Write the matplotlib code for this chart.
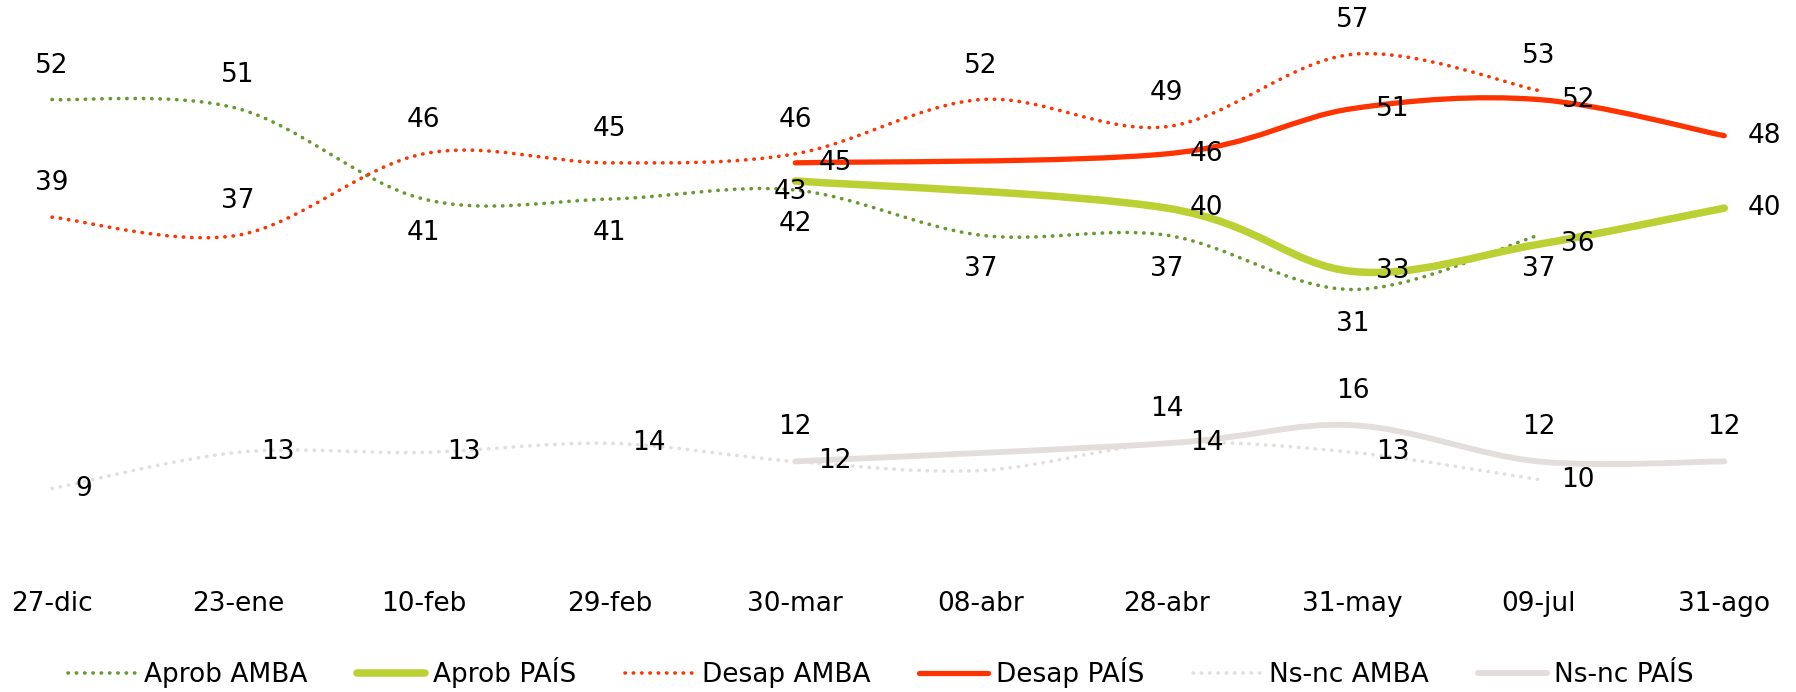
import numpy as np
import matplotlib
matplotlib.use("Agg")
import matplotlib.pyplot as plt
from matplotlib.path import Path
from matplotlib.patches import PathPatch
from matplotlib.lines import Line2D

plt.rcParams["font.family"] = ["DejaVu Sans"]

# data
dates = ["27-dic", "23-ene", "10-feb", "29-feb", "30-mar",
         "08-abr", "28-abr", "31-may", "09-jul", "31-ago"]
nan = np.nan
aprob_amba = [52, 51, 41, 41, 42, 37, 37, 31, 37, nan]
aprob_pais = [nan, nan, nan, nan, 43, nan, 40, 33, 36, 40]
desap_amba = [39, 37, 46, 45, 46, 52, 49, 57, 53, nan]
desap_pais = [nan, nan, nan, nan, 45, nan, 46, 51, 52, 48]
nsnc_amba = [9, 13, 13, 14, 12, 11, 14, 13, 10, nan]
nsnc_pais = [nan, nan, nan, nan, 12, nan, 14, 16, 12, 12]

GREEN = "#669a2e"
LIME = "#bbd033"
RED = "#ff3300"
GREY_D = "#e4dfdc"
GREY_S = "#e3dedb"
DOTS = (0, (0.1, 2.2))

# label placement: offset in pixels (dx, dy) and horizontal alignment
ABOVE = (0, 34, "center")
BELOW = (0, -34, "center")
RIGHT = (23, 0, "left")

series = [
    # name, values, colour, linewidth, style, label places
    ("Aprob AMBA", aprob_amba, GREEN, 2.6, DOTS,
     [ABOVE, ABOVE] + [BELOW] * 7),
    ("Aprob PAÍS", aprob_pais, LIME, 5.4, "-",
     [(-5, -11, "center"), RIGHT, RIGHT, RIGHT, RIGHT]),
    ("Desap AMBA", desap_amba, RED, 2.6, DOTS, [ABOVE] * 9),
    ("Desap PAÍS", desap_pais, RED, 3.8, "-", [RIGHT] * 5),
    ("Ns-nc AMBA", nsnc_amba, GREY_D, 2.6, DOTS,
     [RIGHT] * 5 + [None] + [RIGHT] * 3),
    ("Ns-nc PAÍS", nsnc_pais, GREY_S, 4.2, "-", [ABOVE] * 5),
]


def smooth_path(xs, ys):
    # Excel-like smoothed line as cubic Bezier segments
    pts = np.column_stack([xs, ys])
    n = len(pts)
    verts = [pts[0]]
    codes = [Path.MOVETO]
    for i in range(n - 1):
        p0 = pts[max(i - 1, 0)]
        p1 = pts[i]
        p2 = pts[i + 1]
        p3 = pts[min(i + 2, n - 1)]
        c1 = p1 + (p2 - p0) / 6.0
        c2 = p2 - (p3 - p1) / 6.0
        verts += [c1, c2, p2]
        codes += [Path.CURVE4] * 3
    return Path(verts, codes)


fig = plt.figure(figsize=(17.96, 6.92), dpi=100)
ax = fig.add_axes([0, 0.1763, 1, 0.8237])
ax.set_xlim(-0.28, 9.386)
ax.set_ylim(0, 63)

handles = []
for name, vals, color, lw, ls, places in series:
    v = np.array(vals, dtype=float)
    idx = np.where(~np.isnan(v))[0]
    path = smooth_path(idx.astype(float), v[idx])
    patch = PathPatch(path, fill=False, edgecolor=color, linewidth=lw,
                      linestyle=ls, capstyle="round", joinstyle="round")
    ax.add_patch(patch)
    handles.append(Line2D([], [], color=color, linewidth=lw, linestyle=ls,
                          dash_capstyle="round", solid_capstyle="round"))
    for k, i in enumerate(idx):
        place = places[k]
        if place is None:
            continue
        dx, dy, ha = place
        ax.annotate(f"{v[i]:.0f}", (i, v[i]), xytext=(dx, dy),
                    textcoords="offset pixels", ha=ha, va="center",
                    fontsize=19, color="black")

ax.set_xticks(range(len(dates)), dates)
ax.tick_params(axis="x", length=0, pad=15, labelsize=19)
ax.set_yticks([])
for s in ax.spines.values():
    s.set_visible(False)

fig.legend(handles, [s[0] for s in series], loc="center",
           bbox_to_anchor=(881 / 1796, 1 - 673 / 692), ncol=6,
           frameon=False, fontsize=19, handlelength=2.6,
           handletextpad=0.3, columnspacing=1.85)

fig.savefig("out.png", dpi=100, facecolor="white")
